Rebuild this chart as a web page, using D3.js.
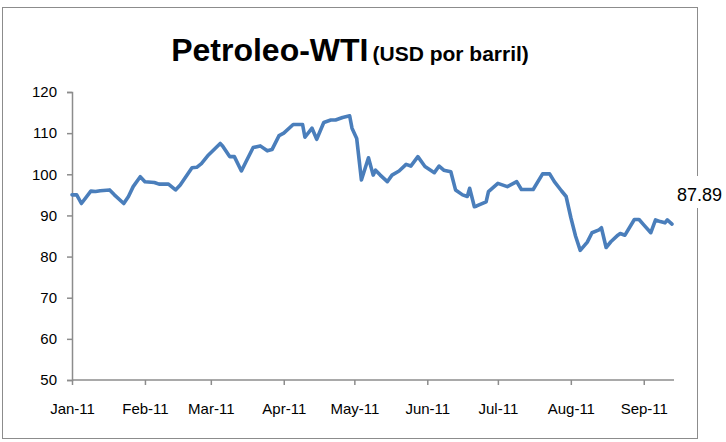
<!DOCTYPE html>
<html>
<head>
<meta charset="utf-8">
<script src="https://cdn.jsdelivr.net/npm/d3@7"></script>
<style>
  body { margin: 0; background: #fff; }
  svg text { font-family: "Liberation Sans", Arial, sans-serif; }
</style>
</head>
<body>
<div class="chart-area"></div>
<script>
// price series (USD per barrel)
var dates = [
  "2011-01-03","2011-01-05","2011-01-07","2011-01-11","2011-01-13","2011-01-15","2011-01-19","2011-01-21",
  "2011-01-25","2011-01-27","2011-01-29","2011-02-01","2011-02-03","2011-02-07","2011-02-09","2011-02-13",
  "2011-02-16","2011-02-18","2011-02-23","2011-02-25","2011-02-27","2011-03-02","2011-03-07","2011-03-08",
  "2011-03-11","2011-03-13","2011-03-16","2011-03-18","2011-03-21","2011-03-24","2011-03-27","2011-03-29",
  "2011-04-01","2011-04-03","2011-04-07","2011-04-11","2011-04-12","2011-04-15","2011-04-17","2011-04-20",
  "2011-04-23","2011-04-25","2011-04-28","2011-05-01","2011-05-02","2011-05-04","2011-05-06","2011-05-09",
  "2011-05-11","2011-05-12","2011-05-14","2011-05-17","2011-05-19","2011-05-22","2011-05-25","2011-05-27",
  "2011-05-30","2011-06-02","2011-06-06","2011-06-08","2011-06-10","2011-06-13","2011-06-15","2011-06-18",
  "2011-06-20","2011-06-21","2011-06-23","2011-06-24","2011-06-28","2011-06-29","2011-07-03","2011-07-07",
  "2011-07-11","2011-07-13","2011-07-18","2011-07-22","2011-07-25","2011-07-27","2011-07-30","2011-08-01",
  "2011-08-03","2011-08-05","2011-08-07","2011-08-10","2011-08-12","2011-08-15","2011-08-16","2011-08-18",
  "2011-08-20","2011-08-23","2011-08-24","2011-08-26","2011-08-30","2011-09-01","2011-09-03","2011-09-06",
  "2011-09-08","2011-09-10","2011-09-12","2011-09-13","2011-09-15"
];
var prices = [
  95.0, 95.0, 92.9, 95.9, 95.8, 96.0, 96.2, 95.0,
  92.9, 94.6, 97.0, 99.4, 98.2, 98.0, 97.6, 97.6,
  96.2, 97.4, 101.6, 101.7, 102.6, 104.7, 107.5, 106.9,
  104.3, 104.3, 100.8, 103.1, 106.5, 106.9, 105.7, 106.0,
  109.4, 110.0, 112.1, 112.1, 109.0, 111.2, 108.5, 112.6,
  113.2, 113.2, 113.8, 114.2, 111.2, 108.7, 98.6, 104.0,
  99.8, 101.0, 99.8, 98.2, 99.8, 100.8, 102.4, 102.0,
  104.3, 101.9, 100.4, 102.0, 101.0, 100.6, 96.2, 95.0,
  94.6, 96.6, 92.1, 92.3, 93.3, 95.8, 97.8, 97.0,
  98.2, 96.3, 96.3, 100.1, 100.1, 98.2, 96.0, 94.6,
  89.5, 85.0, 81.5, 83.5, 85.8, 86.5, 87.0, 82.2,
  83.6, 85.2, 85.6, 85.2, 89.0, 89.0, 87.7, 85.8,
  88.9, 88.5, 88.2, 88.9, 87.89
];
var tickMonths = ["2011-01-03","2011-02-03","2011-03-03","2011-04-03","2011-05-03",
                  "2011-06-03","2011-07-03","2011-08-03","2011-09-03"];
var yTicks = [50, 60, 70, 80, 90, 100, 110, 120];
var titleMain = "Petroleo-WTI";
var titleSub = "(USD por barril)";

var W = 726, H = 442;
var parse = d3.timeParse("%Y-%m-%d");
var fmt = d3.timeFormat("%b-%y");

var data = dates.map(function(d, i){ return {date: parse(d), value: prices[i]}; });

var svg = d3.select(".chart-area").append("svg")
    .attr("width", W)
    .attr("height", H);

// outer chart border
svg.append("rect")
    .attr("x", 2.5).attr("y", 7.5)
    .attr("width", 695).attr("height", 431)
    .attr("fill", "#fff")
    .attr("stroke", "#8c8c8c")
    .attr("stroke-width", 1);

var x = d3.scaleTime()
    .domain(d3.extent(data, function(d){ return d.date; }))
    .range([72, 672]);

var y = d3.scaleLinear()
    .domain([50, 120])
    .range([380, 92]);

var xAxis = svg.append("g")
    .attr("transform", "translate(0,380)")
    .call(d3.axisBottom(x)
        .tickValues(tickMonths.map(parse))
        .tickFormat(fmt)
        .tickSize(5)
        .tickPadding(18));

var yAxis = svg.append("g")
    .attr("transform", "translate(72,0)")
    .call(d3.axisLeft(y)
        .tickValues(yTicks)
        .tickSize(5)
        .tickPadding(10));

[xAxis, yAxis].forEach(function(g){
  g.select(".domain").attr("stroke", "#8c8c8c").attr("stroke-width", 1.5);
  g.selectAll(".tick line").attr("stroke", "#8c8c8c").attr("stroke-width", 1.5);
  g.selectAll(".tick text")
    .attr("fill", "#000")
    .style("font-size", "15px");
});
// x axis domain runs to the end of the plot area
xAxis.select(".domain").attr("d", "M72,0H674");

var line = d3.line()
    .x(function(d){ return x(d.date); })
    .y(function(d){ return y(d.value); });

svg.append("path")
    .datum(data)
    .attr("fill", "none")
    .attr("stroke", "#4a7ebb")
    .attr("stroke-width", 3.6)
    .attr("stroke-linejoin", "round")
    .attr("stroke-linecap", "round")
    .attr("d", line);

// title
var title = svg.append("text")
    .attr("x", 350)
    .attr("y", 61)
    .attr("text-anchor", "middle")
    .style("font-weight", "bold");
title.append("tspan").style("font-size", "32px").text(titleMain);
title.append("tspan").attr("dx", 4).style("font-size", "21px").text(titleSub);

// last value label
var last = data[data.length - 1];
svg.append("rect")
    .attr("x", 676).attr("y", 176)
    .attr("width", 50).attr("height", 32)
    .attr("fill", "#fff");
svg.append("text")
    .attr("x", 677)
    .attr("y", 201)
    .style("font-size", "18px")
    .attr("fill", "#000")
    .text(last.value.toFixed(2));
</script>
</body>
</html>
